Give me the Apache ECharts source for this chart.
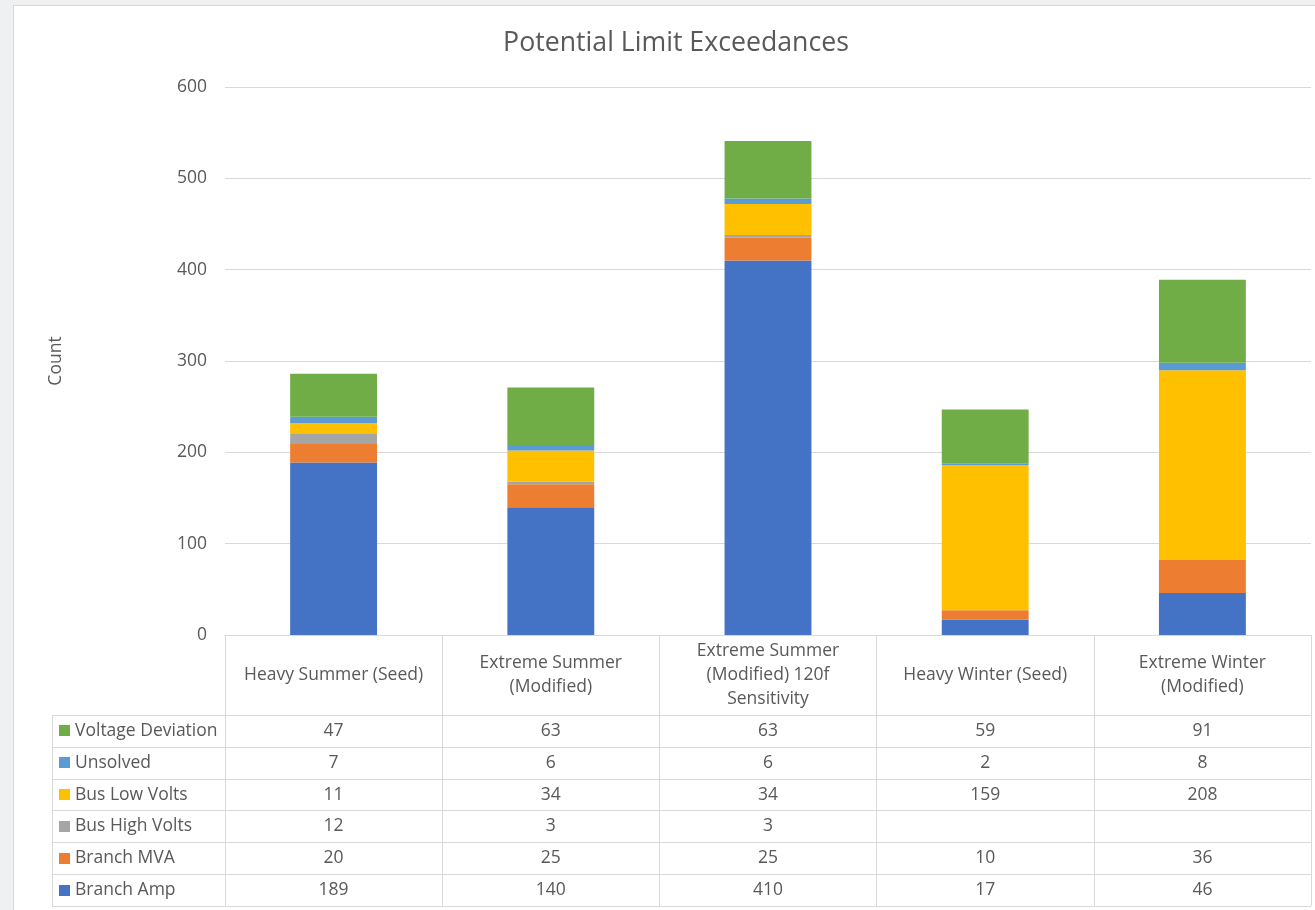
<!DOCTYPE html>
<html>
<head>
<meta charset="utf-8">
<script src="https://cdn.jsdelivr.net/npm/echarts@6/dist/echarts.min.js"></script>
<style>
  html, body { margin: 0; padding: 0; background: #eef0f2; width: 1315px; height: 910px; overflow: hidden; }
  #panel { position: absolute; left: 13px; top: 5px; width: 1400px; height: 1000px; background: #ffffff; border: 1px solid #d6d6d6; }
  #chart { position: absolute; left: 0; top: 0; width: 1315px; height: 910px; }
</style>
</head>
<body>
<div id="panel"></div>
<div id="chart"></div>
<script>
// ---- data ----
const categories = ['Heavy Summer (Seed)', 'Extreme Summer (Modified)', 'Extreme Summer (Modified) 120f Sensitivity', 'Heavy Winter (Seed)', 'Extreme Winter (Modified)'];
const tickLabels = ['Heavy Summer (Seed)', 'Extreme Summer\n(Modified)', 'Extreme Summer\n(Modified) 120f\nSensitivity', 'Heavy Winter (Seed)', 'Extreme Winter\n(Modified)'];
const seriesNames = ['Branch Amp', 'Branch MVA', 'Bus High Volts', 'Bus Low Volts', 'Unsolved', 'Voltage Deviation'];
const branchAmp = [189, 140, 410, 17, 46];
const branchMVA = [20, 25, 25, 10, 36];
const busHighVolts = [12, 3, 3, null, null];
const busLowVolts = [11, 34, 34, 159, 208];
const unsolved = [7, 6, 6, 2, 8];
const voltageDeviation = [47, 63, 63, 59, 91];
const yTicks = [0, 100, 200, 300, 400, 500, 600];

const seriesData = [branchAmp, branchMVA, busHighVolts, busLowVolts, unsolved, voltageDeviation];
const colors = ['#4472C4', '#ED7D31', '#A5A5A5', '#FFC000', '#5B9BD5', '#70AD47'];

const FONT = 'Open Sans';
const TXT = '#595959';
const LINE = '#d9d9d9';
const FS = 17.5;

const chart = echarts.init(document.getElementById('chart'), null, { renderer: 'canvas' });

const option = {
  animation: false,
  backgroundColor: 'transparent',
  title: {
    text: 'Potential Limit Exceedances',
    left: 671, top: 25, textAlign: 'center',
    textStyle: { fontFamily: FONT, fontSize: 26.7, fontWeight: 'normal', color: TXT }
  },
  grid: { left: 225, right: 4, top: 87, bottom: 275, containLabel: false },
  xAxis: {
    type: 'category',
    data: categories,
    axisLine: { show: true, lineStyle: { color: LINE, width: 1 } },
    axisTick: { show: true, length: 271, interval: 0, lineStyle: { color: LINE, width: 1 } },
    axisLabel: {
      interval: 0, margin: 40, verticalAlign: 'middle', lineHeight: 24,
      fontFamily: FONT, fontSize: FS, color: TXT, align: 'center',
      formatter: (v, i) => tickLabels[i]
    }
  },
  yAxis: {
    type: 'value', min: yTicks[0], max: yTicks[yTicks.length - 1], interval: 100,
    name: 'Count', nameLocation: 'middle', nameGap: 160, nameRotate: 90,
    nameTextStyle: { fontFamily: FONT, fontSize: FS, color: TXT },
    axisLine: { show: false }, axisTick: { show: false },
    axisLabel: { margin: 18, fontFamily: FONT, fontSize: FS, color: TXT },
    splitLine: { lineStyle: { color: LINE, width: 1 } }
  },
  series: seriesNames.map((name, k) => ({
    name, type: 'bar', stack: 'total', data: seriesData[k], barWidth: '40%',
    itemStyle: { color: colors[k] }, emphasis: { disabled: true }
  }))
};
chart.setOption(option);

// ---- data table below the axis ----
const tableLeft = 52, tableRight = 1311, rowTop = 715, rowH = 31.83;
const markerX = 59, labelX = 75;
const rowOrder = seriesNames.map((_, k) => k).reverse();
const g = [];
for (let r = 0; r <= rowOrder.length; r++) {
  const y = Math.round(rowTop + r * rowH) + 0.5;
  g.push({ type: 'line', shape: { x1: tableLeft, y1: y, x2: tableRight, y2: y }, style: { stroke: LINE, lineWidth: 1 }, silent: true });
}
g.push({ type: 'line', shape: { x1: tableLeft + 0.5, y1: rowTop, x2: tableLeft + 0.5, y2: Math.round(rowTop + rowOrder.length * rowH) + 0.5 }, style: { stroke: LINE, lineWidth: 1 }, silent: true });
rowOrder.forEach((k, r) => {
  const cy = rowTop + (r + 0.5) * rowH;
  g.push({ type: 'rect', shape: { x: markerX, y: Math.round(cy - 5.5), width: 11, height: 11 }, style: { fill: colors[k] }, silent: true });
  g.push({ type: 'text', x: labelX, y: cy, style: { text: seriesNames[k], fontFamily: FONT, fontSize: FS, fill: TXT, textAlign: 'left', textVerticalAlign: 'middle' }, silent: true });
  seriesData[k].forEach((v, i) => {
    if (v === null || v === undefined) return;
    const cx = chart.convertToPixel({ xAxisIndex: 0 }, i);
    g.push({ type: 'text', x: cx, y: cy, style: { text: String(v), fontFamily: FONT, fontSize: FS, fill: TXT, textAlign: 'center', textVerticalAlign: 'middle' }, silent: true });
  });
});
chart.setOption({ graphic: g });
</script>
</body>
</html>
